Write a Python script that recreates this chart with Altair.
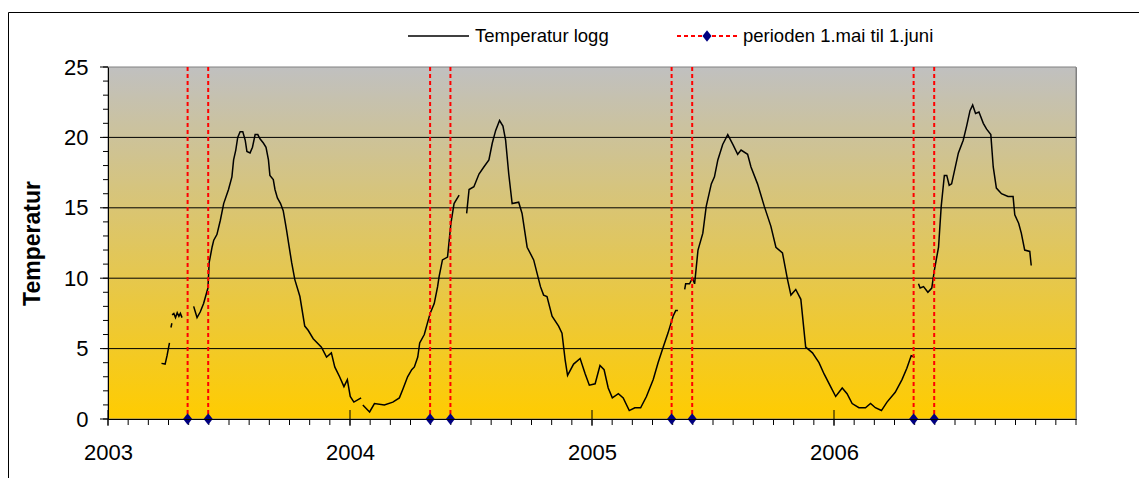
import altair as alt
import pandas as pd

# ---- data (x in decimal years, y in degrees C) ----
seg_year = [
    [2003.221, 2003.236, 2003.244, 2003.254],
    [2003.260, 2003.264],
    [2003.265, 2003.272, 2003.279, 2003.286, 2003.293, 2003.299, 2003.306],
    [2003.354, 2003.361, 2003.368, 2003.381, 2003.395, 2003.413, 2003.418, 2003.430, 2003.437,
     2003.450, 2003.464, 2003.478, 2003.498, 2003.512, 2003.519, 2003.528, 2003.536, 2003.546,
     2003.557, 2003.567, 2003.574, 2003.587, 2003.597, 2003.608, 2003.619, 2003.628, 2003.642,
     2003.653, 2003.663, 2003.669, 2003.683, 2003.690, 2003.700, 2003.713, 2003.724, 2003.731,
     2003.738, 2003.747, 2003.759, 2003.772, 2003.793, 2003.813, 2003.827, 2003.848, 2003.882,
     2003.903, 2003.923, 2003.937, 2003.957, 2003.975, 2003.989, 2004.001, 2004.016, 2004.046],
    [2004.053, 2004.081, 2004.101, 2004.142, 2004.177, 2004.204, 2004.218, 2004.238, 2004.255,
     2004.266, 2004.280, 2004.288, 2004.307, 2004.331, 2004.348, 2004.362, 2004.368, 2004.382,
     2004.403, 2004.417, 2004.430, 2004.451],
    [2004.482, 2004.492, 2004.512, 2004.533, 2004.553, 2004.574, 2004.588, 2004.602, 2004.618,
     2004.632, 2004.643, 2004.656, 2004.670, 2004.697, 2004.711, 2004.732, 2004.759, 2004.787,
     2004.800, 2004.814, 2004.835, 2004.862, 2004.876, 2004.889, 2004.899, 2004.924, 2004.951,
     2004.972, 2004.989, 2005.013, 2005.033, 2005.050, 2005.067, 2005.084, 2005.109, 2005.129,
     2005.154, 2005.177, 2005.201, 2005.225, 2005.253, 2005.273, 2005.294, 2005.314, 2005.335,
     2005.346, 2005.355],
    [2005.383, 2005.387, 2005.403, 2005.415, 2005.424, 2005.438, 2005.458, 2005.472, 2005.493,
     2005.506, 2005.520, 2005.540, 2005.561, 2005.582, 2005.602, 2005.616, 2005.643, 2005.657,
     2005.684, 2005.712, 2005.739, 2005.760, 2005.787, 2005.808, 2005.822, 2005.842, 2005.863,
     2005.883, 2005.911, 2005.938, 2005.959, 2005.986, 2006.007, 2006.034, 2006.054, 2006.075,
     2006.103, 2006.130, 2006.151, 2006.171, 2006.196, 2006.219, 2006.253, 2006.281, 2006.301,
     2006.319, 2006.333],
    [2006.349, 2006.356, 2006.370, 2006.388, 2006.404, 2006.415, 2006.432, 2006.443, 2006.456,
     2006.466, 2006.476, 2006.486, 2006.514, 2006.534, 2006.548, 2006.562, 2006.573, 2006.585,
     2006.599, 2006.617, 2006.630, 2006.648, 2006.658, 2006.671, 2006.692, 2006.719, 2006.740,
     2006.747, 2006.763, 2006.774, 2006.788, 2006.809, 2006.815],
]
seg_temp = [
    [3.95, 3.9, 4.5, 5.4],
    [6.5, 6.8],
    [7.4, 7.5, 7.2, 7.55, 7.3, 7.5, 7.2],
    [8.0, 7.6, 7.2, 7.6, 8.2, 9.3, 11.1, 12.2, 12.7,
     13.1, 14.1, 15.3, 16.3, 17.2, 18.4, 19.1, 20.0, 20.4,
     20.4, 19.8, 19.0, 18.9, 19.3, 20.2, 20.2, 19.9, 19.6,
     19.3, 18.4, 17.3, 17.0, 16.3, 15.7, 15.3, 14.8, 14.1,
     13.4, 12.4, 11.1, 9.9, 8.7, 6.6, 6.3, 5.7, 5.1,
     4.4, 4.7, 3.7, 3.0, 2.3, 2.8, 1.6, 1.2, 1.5],
    [1.0, 0.5, 1.1, 1.0, 1.2, 1.5, 2.1, 3.0, 3.5,
     3.7, 4.4, 5.4, 6.0, 7.5, 8.2, 9.4, 10.1, 11.3,
     11.5, 13.9, 15.3, 15.9],
    [14.6, 16.3, 16.5, 17.4, 17.9, 18.4, 19.6, 20.5, 21.2,
     20.8, 19.8, 17.4, 15.3, 15.4, 14.6, 12.2, 11.3, 9.4,
     8.8, 8.7, 7.3, 6.6, 6.1, 4.2, 3.1, 3.9, 4.3,
     3.2, 2.4, 2.5, 3.8, 3.5, 2.2, 1.5, 1.8, 1.5,
     0.6, 0.8, 0.8, 1.6, 2.8, 4.0, 5.1, 6.1, 7.3,
     7.7, 7.7],
    [9.2, 9.6, 9.6, 10.0, 9.6, 12.0, 13.2, 15.1, 16.7,
     17.2, 18.4, 19.5, 20.2, 19.5, 18.8, 19.1, 18.8, 17.9,
     16.7, 15.1, 13.7, 12.2, 11.8, 9.9, 8.8, 9.2, 8.5,
     5.1, 4.7, 4.0, 3.2, 2.3, 1.6, 2.2, 1.8, 1.1,
     0.8, 0.8, 1.1, 0.8, 0.6, 1.2, 1.9, 2.8, 3.6,
     4.5, 4.4],
    [9.6, 9.3, 9.4, 9.0, 9.3, 10.6, 12.2, 15.1, 17.3,
     17.3, 16.6, 16.7, 18.9, 19.8, 20.8, 21.9, 22.3, 21.7,
     21.8, 21.0, 20.6, 20.2, 17.9, 16.4, 16.0, 15.8, 15.8,
     14.5, 13.9, 13.2, 12.0, 11.9, 10.9],
]

# 1 May and 1 June of each year, as decimal years
period_year = [2003.329, 2003.414, 2004.331, 2004.415, 2005.329, 2005.414, 2006.329, 2006.414]
period_temp = [0, 0, 0, 0, 0, 0, 0, 0]

y_major = [0, 5, 10, 15, 20, 25]
grid_values = [5, 10, 15, 20]
x_major = [2003, 2004, 2005, 2006]
legend_labels = ["Temperatur logg", "perioden 1.mai til 1.juni"]
y_title = "Temperatur"

# ---- tables ----
rows = []
for i, (ys, ts) in enumerate(zip(seg_year, seg_temp)):
    for y, t in zip(ys, ts):
        rows.append({"year": y, "temp": t, "seg": i})
log_df = pd.DataFrame(rows)
period_df = pd.DataFrame({"year": period_year, "temp": period_temp})
grid_df = pd.DataFrame({"temp": grid_values})
ymaj_df = pd.DataFrame({"temp": y_major})
ymin_df = pd.DataFrame({"temp": list(range(0, 26))})           # one minor tick per degree
xmaj_df = pd.DataFrame({"year": x_major})
xmin_df = pd.DataFrame({"year": [2003 + k / 12 for k in range(49)]})  # one minor tick per month
one = pd.DataFrame({"k": [0]})

W, H = 968, 352
FONT = "Liberation Sans, Arial, sans-serif"

xscale = alt.Scale(domain=[2003, 2007], nice=False, zero=False)
yscale = alt.Scale(domain=[0, 25], nice=False, zero=True)

xaxis = alt.Axis(
    values=x_major, format="d", ticks=False,
    labelFlush=False, labelOverlap=False, grid=False, zindex=1,
    domainColor="black", labelColor="black",
    labelFontSize=22, labelPadding=23, labelFont=FONT,
)
yaxis = alt.Axis(
    values=y_major, ticks=False,
    grid=False, labelOverlap=False, zindex=1,
    domainColor="black", labelColor="black",
    labelFontSize=22, labelPadding=20, labelFont=FONT,
    title=y_title, titleFontSize=23, titleFontWeight="bold", titleColor="black",
    titleFont=FONT, titlePadding=19,
)

X = alt.X("year:Q", scale=xscale, axis=xaxis, title="")
Y = alt.Y("temp:Q", scale=yscale, axis=yaxis, title=y_title)
X2 = alt.X("year:Q", scale=xscale)
Y2 = alt.Y("temp:Q", scale=yscale)

gradient = alt.LinearGradient(
    gradient="linear",
    stops=[alt.GradientStop(color="#C0C0C0", offset=0), alt.GradientStop(color="#FFCC00", offset=1)],
    x1=0, x2=0, y1=0, y2=1,
)
bg = alt.Chart(one).mark_rect(fill=gradient, stroke="#808080", strokeWidth=1).encode(
    x=alt.value(0), x2=alt.value(W), y=alt.value(0), y2=alt.value(H))

grid = alt.Chart(grid_df).mark_rule(color="black", strokeWidth=1).encode(y=Y)

tick_y_major = alt.Chart(ymaj_df).mark_rule(color="black", strokeWidth=1).encode(
    y=Y2, x=alt.value(-8), x2=alt.value(0))
tick_y_minor = alt.Chart(ymin_df).mark_rule(color="black", strokeWidth=1).encode(
    y=Y2, x=alt.value(-5), x2=alt.value(0))
tick_x_major = alt.Chart(xmaj_df).mark_rule(color="black", strokeWidth=1).encode(
    x=X2, y=alt.value(H - 9), y2=alt.value(H + 7))
tick_x_minor = alt.Chart(xmin_df).mark_rule(color="black", strokeWidth=1).encode(
    x=X2, y=alt.value(H), y2=alt.value(H + 6))

line = alt.Chart(log_df).mark_line(color="black", strokeWidth=1.5).encode(
    x=X, y=Y2, detail="seg:N", order="year:Q"
)
rules = alt.Chart(period_df).mark_rule(color="#FF0000", strokeDash=[4, 3], strokeWidth=2).encode(x=X2)
diamond = "M0,-1L0.78,0L0,1L-0.78,0Z"
points = alt.Chart(period_df).mark_point(
    shape=diamond, filled=True, color="#000080", size=135, opacity=1
).encode(x=X2, y=Y2)

LY = -31
leg_line = alt.Chart(one).mark_rule(color="black", strokeWidth=1.5).encode(
    x=alt.value(300), x2=alt.value(361), y=alt.value(LY))
leg_txt1 = alt.Chart(one).mark_text(align="left", baseline="middle", fontSize=18.5, font=FONT, color="black").encode(
    x=alt.value(367), y=alt.value(LY), text=alt.value(legend_labels[0]))
leg_red = alt.Chart(one).mark_rule(color="#FF0000", strokeDash=[4, 3], strokeWidth=2).encode(
    x=alt.value(569), x2=alt.value(629), y=alt.value(LY))
leg_dia = alt.Chart(one).mark_point(shape=diamond, filled=True, color="#000080", size=135, opacity=1).encode(
    x=alt.value(599), y=alt.value(LY))
leg_txt2 = alt.Chart(one).mark_text(align="left", baseline="middle", fontSize=18.5, font=FONT, color="black").encode(
    x=alt.value(635), y=alt.value(LY), text=alt.value(legend_labels[1]))

frame = alt.Chart(one).mark_rect(fill="transparent", stroke="black", strokeWidth=1).encode(
    x=alt.value(-99.5), x2=alt.value(1200), y=alt.value(-54.5), y2=alt.value(800))

chart = alt.layer(
    bg, grid, tick_y_major, tick_y_minor, tick_x_major, tick_x_minor,
    line, rules, points, leg_line, leg_txt1, leg_red, leg_dia, leg_txt2, frame
).properties(
    width=W, height=H,
    autosize=alt.AutoSizeParams(type="none"),
    padding={"left": 100, "top": 59, "right": 63, "bottom": 59},
    background="white",
).configure(font=FONT).configure_view(stroke="#808080", strokeWidth=1)

chart.save("out.html", embed_options={"renderer": "svg", "actions": False})
